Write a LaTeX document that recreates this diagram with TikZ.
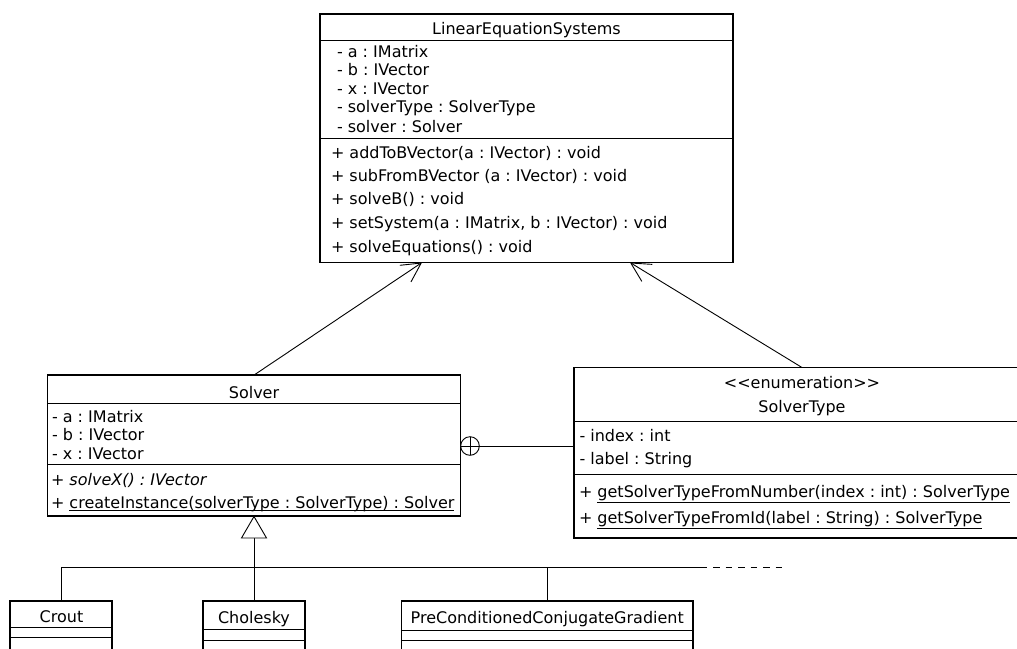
\documentclass[tikz,border=0pt]{standalone}
\usepackage{fontspec}
\setmainfont{DejaVu Sans}
\usetikzlibrary{arrows.meta}
% underline at a fixed depth below the baseline
\newcommand\undl[2][2.5pt]{\setbox0\hbox{#2}\rlap{\rule[-#1]{\wd0}{0.8pt}}\box0}
\begin{document}
\begin{tikzpicture}[x=1pt,y=-1pt,
  every node/.style={inner sep=0pt,outer sep=0pt,font=\fontsize{16pt}{19pt}\selectfont\frenchspacing},
  classbox/.style={draw,line width=1.2pt,fill=white,anchor=north west},
  sep/.style={line width=1pt},
  mem/.style={anchor=base west},
  ctitle/.style={anchor=base},
  conn/.style={line width=0.9pt},
  assoc/.style={conn,-{Straight Barb[length=19pt,width=20pt]}},
]
\useasboundingbox (0,0) rectangle (1017,648);
\clip (0,0) rectangle (1017,648);
\fill[white] (0,0) rectangle (1017,648);

% ---------- LinearEquationSystems ----------
\node[classbox,minimum width=413pt,minimum height=248.5pt] (les) at (320,14) {};
\draw[sep] (320,40) -- (733,40);
\draw[sep] (320,138.5) -- (733,138.5);
\node[ctitle] (lesT) at (526.5,34) {LinearEquationSystems};
\node[mem] (lesA1) at (337,57) {- a : IMatrix};
\node[mem] (lesA2) at (337,75.5) {- b : IVector};
\node[mem] (lesA3) at (337,94) {- x : IVector};
\node[mem] (lesA4) at (337,112.5) {- solverType : SolverType};
\node[mem] (lesA5) at (337,132) {- solver : Solver};
\node[mem] (lesM1) at (331,158) {+ addToBVector(a : IVector) : void};
\node[mem] (lesM2) at (331,181) {+ subFromBVector (a : IVector) : void};
\node[mem] (lesM3) at (331,204.5) {+ solveB() : void};
\node[mem] (lesM4) at (331,228.5) {+ setSystem(a : IMatrix, b : IVector) : void};
\node[mem] (lesM5) at (331,252) {+ solveEquations() : void};

% ---------- Solver ----------
\node[classbox,minimum width=413.2pt,minimum height=141pt] (solver) at (47.5,375) {};
\draw[sep] (47.5,403) -- (460.7,403);
\draw[sep] (47.5,464) -- (460.7,464);
\node[ctitle] (solverT) at (254,398) {Solver};
\node[mem] (solA1) at (52,422) {- a : IMatrix};
\node[mem] (solA2) at (52,440.5) {- b : IVector};
\node[mem] (solA3) at (52,459) {- x : IVector};
\node[mem] (solM1) at (51,485) {+ \itshape solveX() : IVector};
\node[mem] (solM2) at (51,508) {+ \undl[2.5pt]{createInstance(solverType : SolverType) : Solver}};

% ---------- SolverType ----------
\node[classbox,minimum width=456pt,minimum height=170.5pt] (stype) at (574,367.5) {};
\draw[sep] (574,421) -- (1030,421);
\draw[sep] (574,474) -- (1030,474);
\node[ctitle] (stS) at (802,388) {<\kern0pt<enumeration>\kern0pt>};
\node[ctitle] (stT) at (802,412) {SolverType};
\node[mem] (stA1) at (579.5,441) {- index : int};
\node[mem] (stA2) at (579.5,464.5) {- label : String};
\node[mem] (stM1) at (579,497.5) {+ \undl[5pt]{getSolverTypeFromNumber(index : int) : SolverType}};
\node[mem] (stM2) at (579,523.5) {+ \undl[5pt]{getSolverTypeFromId(label : String) : SolverType}};

% ---------- subclasses ----------
\node[classbox,minimum width=102pt,minimum height=60pt] (crout) at (10,601) {};
\draw[sep] (10,627.7) -- (112,627.7);
\draw[sep] (10,637.7) -- (112,637.7);
\node[ctitle] (croutT) at (61.5,622) {Crout};

\node[classbox,minimum width=102pt,minimum height=60pt] (chol) at (203,601) {};
\draw[sep] (203,629.3) -- (305,629.3);
\draw[sep] (203,640) -- (305,640);
\node[ctitle] (cholT) at (254,623.5) {Cholesky};

\node[classbox,minimum width=291.5pt,minimum height=60pt] (pccg) at (401.5,601) {};
\draw[sep] (401.5,630) -- (693,630);
\draw[sep] (401.5,640) -- (693,640);
\node[ctitle] (pccgT) at (547.25,623.3) {PreConditionedConjugateGradient};

% ---------- associations ----------
\coordinate (lesL) at (422,262.5);
\coordinate (lesR) at (630,262.5);
\draw[assoc] (solver.north) -- (lesL);
\draw[assoc] (stype.north) -- (lesR);

% ---------- nesting ----------
\coordinate (stIn) at (574,446);
\node[draw,circle,line width=0.9pt,minimum size=18.6pt,fill=white] (nest) at (470,446) {};
\draw[conn] (nest.north) -- (nest.south);
\draw[conn] (nest.west) -- (nest.east);
\draw[conn] (nest.east) -- (stIn);

% ---------- generalization ----------
\coordinate (tri) at (254,538);
\coordinate (busEnd) at (707,567);
\coordinate (busDash) at (785,567);
\draw[conn] (crout.north) |- (busEnd);
\draw[conn] (chol.north) -- (tri);
\draw[conn] (pccg.north) -- (pccg.north |- busEnd);
\draw[conn,dash pattern=on 6.5pt off 6pt,dash phase=6.5pt] (busEnd) -- (busDash);
\draw[conn,fill=white] (254,516.5) -- (241.5,538) -- (266.5,538) -- cycle;
\end{tikzpicture}
\end{document}
